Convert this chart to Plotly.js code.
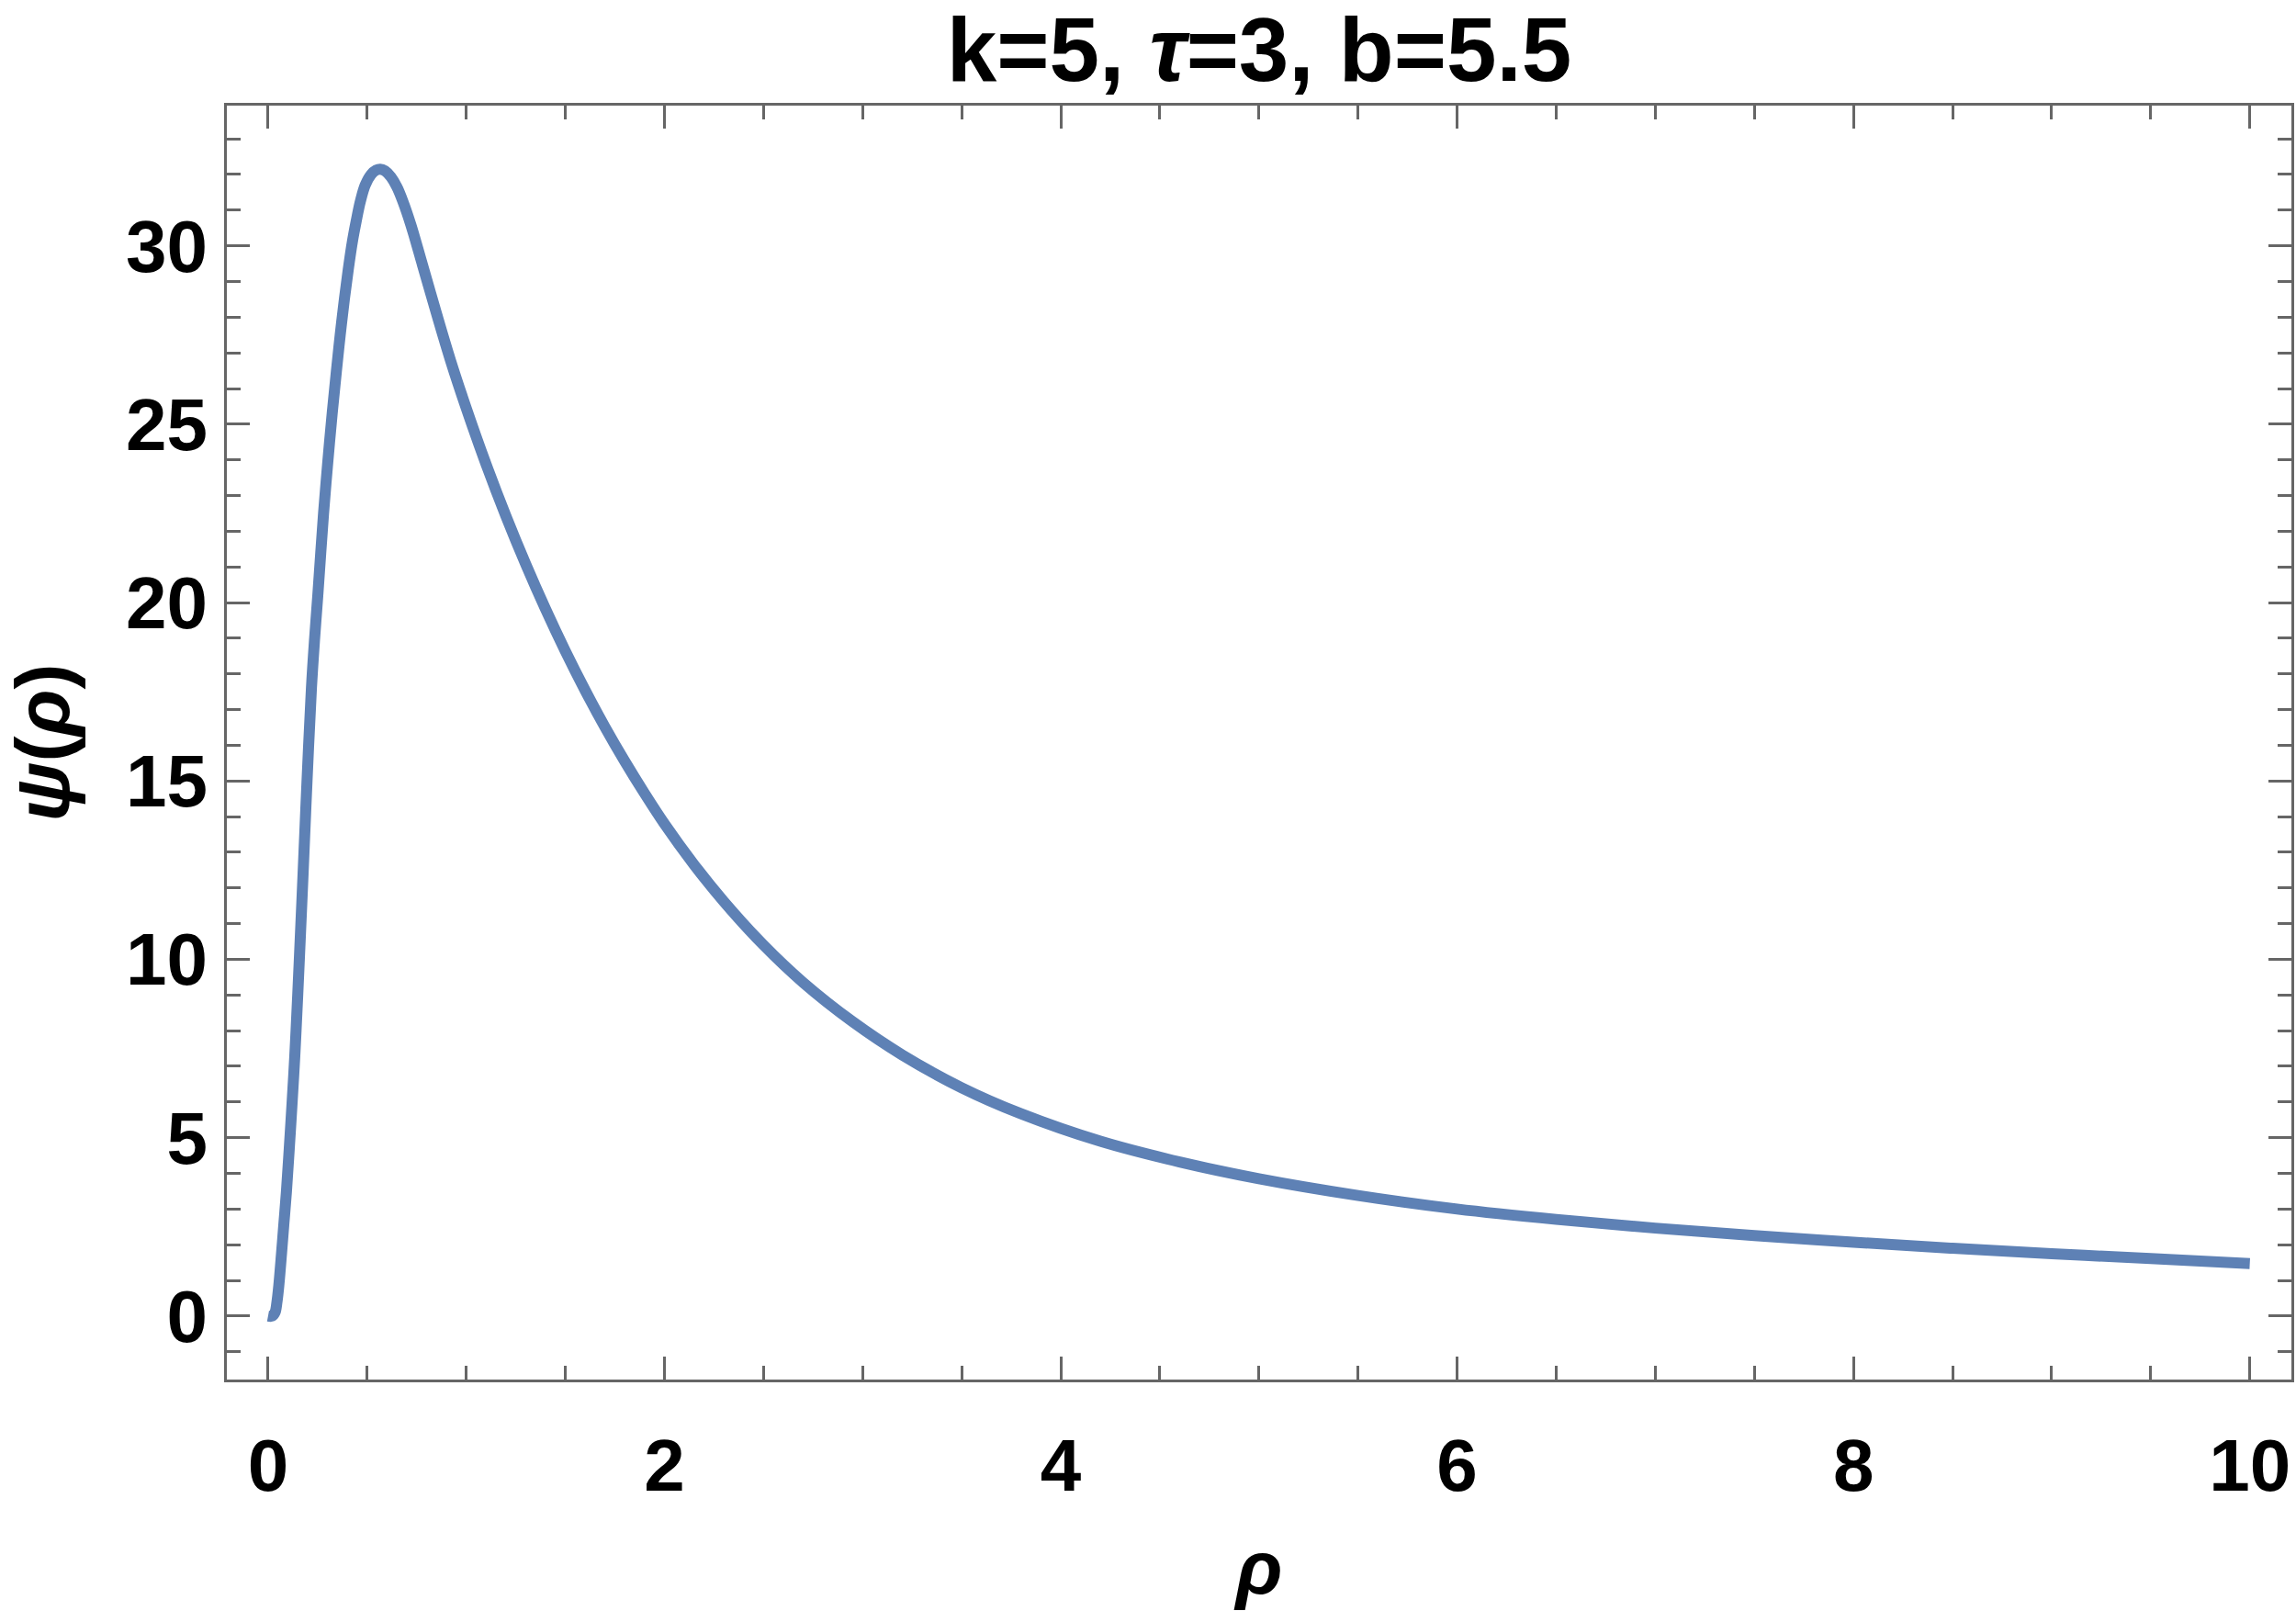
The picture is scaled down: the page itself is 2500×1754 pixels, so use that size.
<!DOCTYPE html>
<html>
<head>
<meta charset="utf-8">
<script src="https://cdn.plot.ly/plotly-3.0.1.min.js"></script>
<style>
  html, body { margin: 0; padding: 0; background: #fff; }
</style>
</head>
<body>
<div id="plot" style="width:2500px;height:1754px;"></div>
<script>
// values
const rho = [0, 0.02, 0.035, 0.045, 0.055, 0.068, 0.08, 0.0925, 0.107, 0.122, 0.135, 0.1465,
  0.157, 0.1773, 0.197, 0.219, 0.235, 0.251, 0.28, 0.30, 0.3235, 0.345, 0.364, 0.385, 0.405,
  0.425, 0.445, 0.466, 0.49, 0.52, 0.545, 0.566, 0.59, 0.62, 0.65, 0.68, 0.72, 0.78, 0.85,
  0.92, 1.0, 1.1, 1.2, 1.3, 1.4, 1.5, 1.6, 1.7, 1.8, 1.9, 2.0, 2.15, 2.3, 2.5, 2.7, 2.95,
  3.2, 3.5, 3.8, 4.2, 4.6, 5.0, 5.5, 6.0, 6.5, 7.0, 7.5, 8.0, 8.5, 9.0, 9.5, 10.0];
const psi = [0, 0, 0.1, 0.4, 0.9, 1.76, 2.6, 3.47, 4.7, 6.05, 7.3, 8.62,
  9.9, 12.48, 15.05, 17.62, 19.0, 20.2, 22.5, 23.85, 25.3, 26.5, 27.5, 28.5, 29.35,
  30.1, 30.7, 31.25, 31.7, 32.0, 32.12, 32.15, 32.1, 31.93, 31.65, 31.25, 30.6, 29.45, 28.1,
  26.8, 25.45, 23.88, 22.43, 21.08, 19.82, 18.64, 17.54, 16.51, 15.55, 14.65, 13.8, 12.65, 11.62, 10.4, 9.35, 8.25,
  7.32, 6.4, 5.67, 4.9, 4.32, 3.85, 3.38, 3.0, 2.71, 2.465, 2.255, 2.07, 1.90, 1.75, 1.61, 1.47];

const xRange = [-0.208, 10.21];
const yRange = [-1.78, 33.93];

const frameColor = '#666666';
const fontFamily = '"Liberation Sans", Arial, Helvetica, sans-serif';

const trace = {
  x: rho,
  y: psi,
  type: 'scatter',
  mode: 'lines',
  line: { color: '#5E81B5', width: 12, shape: 'spline', smoothing: 1 },
  hoverinfo: 'none'
};

const axisCommon = {
  showgrid: false,
  zeroline: false,
  showline: true,
  linecolor: frameColor,
  linewidth: 3,
  mirror: 'ticks',
  ticks: 'inside',
  ticklen: 25,
  tickwidth: 3,
  tickcolor: frameColor,
  tick0: 0,
  tickfont: { family: fontFamily, size: 80, color: '#000', weight: 'bold' }
};

const layout = {
  width: 2500,
  height: 1754,
  margin: { l: 247, r: 5, t: 115, b: 252, pad: 0 },
  paper_bgcolor: '#fff',
  plot_bgcolor: '#fff',
  showlegend: false,
  font: { family: fontFamily, color: '#000' },
  title: {
    text: '<b>k=5, <i>τ</i>=3, b=5.5</b>',
    font: { family: fontFamily, size: 98, color: '#000' },
    x: 0.5, xref: 'paper', xanchor: 'center',
    y: 1 - 54 / 1754, yref: 'container', yanchor: 'middle'
  },
  xaxis: Object.assign({}, axisCommon, {
    range: xRange,
    dtick: 2,
    minor: { dtick: 0.5, ticks: 'inside', ticklen: 15, tickwidth: 3, tickcolor: frameColor },
    ticklabelstandoff: 22,
    title: { text: '<b><i>ρ</i></b>', font: { family: fontFamily, size: 84, color: '#000' }, standoff: 50 }
  }),
  yaxis: Object.assign({}, axisCommon, {
    range: yRange,
    dtick: 5,
    minor: { dtick: 1, ticks: 'inside', ticklen: 15, tickwidth: 3, tickcolor: frameColor },
    ticklabelstandoff: 2,
    title: { text: '<b><i>ψ</i>(<i>ρ</i>)</b>', font: { family: fontFamily, size: 84, color: '#000' }, standoff: 68 }
  })
};

Plotly.newPlot('plot', [trace], layout, { staticPlot: true, displayModeBar: false });
</script>
</body>
</html>
